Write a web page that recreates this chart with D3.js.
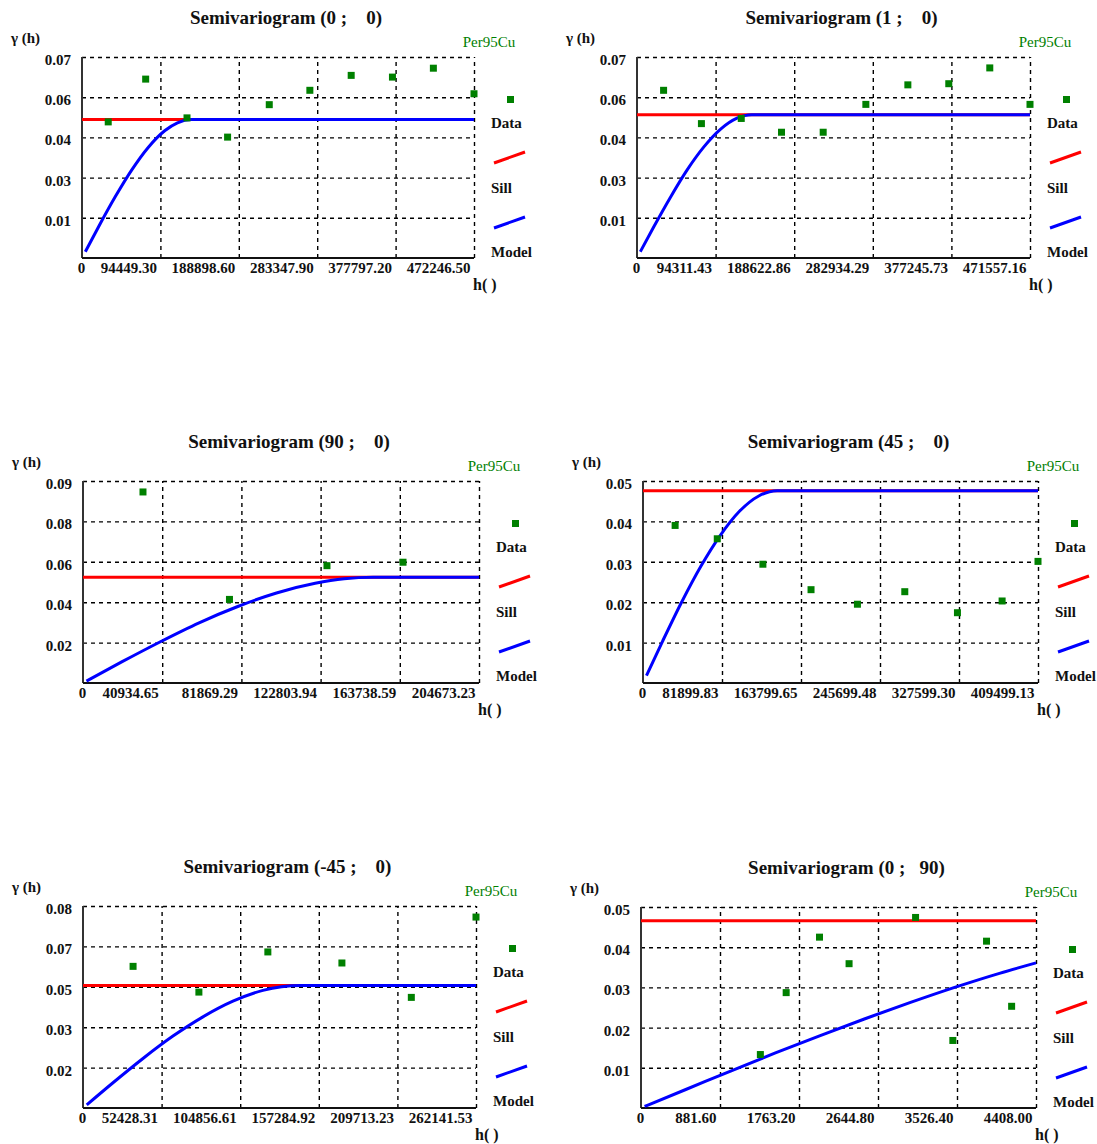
<!DOCTYPE html>
<html>
<head>
<meta charset="utf-8">
<script src="https://cdn.jsdelivr.net/npm/d3@7"></script>
<style>
  body { margin: 0; background: #fff; }
  svg text { font-family: "Liberation Serif", "Times New Roman", serif; font-weight: bold; fill: #111; }
  .title { white-space: pre; }
</style>
</head>
<body>
<svg id="chart" width="1097" height="1144"></svg>
<script>
// ---- data: one set of arrays per direction (azimuth ; dip) ----
const panelTitles = [
  "Semivariogram (0 ;    0)",
  "Semivariogram (1 ;    0)",
  "Semivariogram (90 ;    0)",
  "Semivariogram (45 ;    0)",
  "Semivariogram (-45 ;    0)",
  "Semivariogram (0 ;   90)"
];
const variableName = "Per95Cu";

// vertical extent of each plot and the labels printed at its five gridlines
const yMax = [0.07, 0.07, 0.094, 0.05, 0.084, 0.05];
const yTickLabels = [
  ["0.01", "0.03", "0.04", "0.06", "0.07"],
  ["0.01", "0.03", "0.04", "0.06", "0.07"],
  ["0.02", "0.04", "0.06", "0.08", "0.09"],
  ["0.01", "0.02", "0.03", "0.04", "0.05"],
  ["0.02", "0.03", "0.05", "0.07", "0.08"],
  ["0.01", "0.02", "0.03", "0.04", "0.05"]
];
const xTickLabels = [
  ["94449.30", "188898.60", "283347.90", "377797.20", "472246.50"],
  ["94311.43", "188622.86", "282934.29", "377245.73", "471557.16"],
  ["40934.65", "81869.29", "122803.94", "163738.59", "204673.23"],
  ["81899.83", "163799.65", "245699.48", "327599.30", "409499.13"],
  ["52428.31", "104856.61", "157284.92", "209713.23", "262141.53"],
  ["881.60", "1763.20", "2644.80", "3526.40", "4408.00"]
];

// experimental semivariogram (lag distance h, gamma)
const lag_0_0   = [31600, 76700, 126500, 175400, 225600, 274500, 324300, 374000, 423300, 472246.5];
const gamma_0_0 = [0.0474, 0.0623, 0.0488, 0.0421, 0.0534, 0.0584, 0.0636, 0.0630, 0.0661, 0.0572];
const lag_1_0   = [31900, 77300, 125100, 173400, 223400, 274600, 325000, 374100, 423300, 471557.16];
const gamma_1_0 = [0.0584, 0.0468, 0.0486, 0.0438, 0.0438, 0.0535, 0.0603, 0.0607, 0.0662, 0.0535];
const lag_90_0   = [31000, 75700, 126100, 165400];
const gamma_90_0 = [0.0889, 0.0389, 0.0546, 0.0562];
const lag_45_0   = [33300, 77000, 124300, 174200, 222300, 271400, 326000, 372300, 409499.13];
const gamma_45_0 = [0.0390, 0.0357, 0.0294, 0.0231, 0.0195, 0.0226, 0.0174, 0.0203, 0.0301];
const lag_m45_0   = [33400, 77300, 123300, 172700, 219000, 262141.53];
const gamma_m45_0 = [0.0589, 0.0482, 0.0649, 0.0603, 0.0460, 0.0794];
const lag_0_90   = [1332, 1620, 1992, 2322, 3064, 3480, 3856, 4136];
const gamma_0_90 = [0.0133, 0.0287, 0.0425, 0.0359, 0.0474, 0.0168, 0.0415, 0.0253];

// fitted model curve, sampled along h
const modelH_0_0 = [4000, 20000, 40000, 60000, 80000, 100000, 115000, 131500, 472246.5];
const modelG_0_0 = [0.0022, 0.0109, 0.0213, 0.0307, 0.0386, 0.0444, 0.0471, 0.0482, 0.0482];
const modelH_1_0 = [4000, 20000, 40000, 60000, 80000, 100000, 120000, 137700, 471557.16];
const modelG_1_0 = [0.0022, 0.0108, 0.0211, 0.0306, 0.0386, 0.0448, 0.0487, 0.0499, 0.0499];
const modelH_90_0 = [1800, 20000, 40000, 60000, 80000, 100000, 120000, 135000, 150000, 204673.23];
const modelG_90_0 = [0.0009, 0.0098, 0.0192, 0.0280, 0.0356, 0.0419, 0.0464, 0.0485, 0.0492, 0.0492];
const modelH_45_0 = [3600, 20000, 40000, 60000, 80000, 100000, 120000, 139150, 409499.13];
const modelG_45_0 = [0.00185, 0.0102, 0.0200, 0.0289, 0.0365, 0.0425, 0.0463, 0.0476, 0.0476];
const modelH_m45_0 = [2500, 20000, 40000, 60000, 80000, 100000, 120000, 145000, 262141.53];
const modelG_m45_0 = [0.0013, 0.0105, 0.0206, 0.0299, 0.0379, 0.0444, 0.0489, 0.0509, 0.0509];
const modelH_0_90 = [40, 500, 1000, 1500, 2000, 2500, 3000, 3500, 4000, 4408];
const modelG_0_90 = [0.0004, 0.0046, 0.0092, 0.0137, 0.0180, 0.0222, 0.0262, 0.0300, 0.0335, 0.0361];

// sill of each fitted model
const sills = [0.0482, 0.0499, 0.0492, 0.0476, 0.0509, 0.0466];

const legendLabels = ["Data", "Sill", "Model"];

// ---- layout of the six plotting frames (pixels) ----
const frames = [
  { left: 82,  right: 474,  top: 57,  bottom: 258 },
  { left: 637, right: 1030, top: 57,  bottom: 258 },
  { left: 83,  right: 479,  top: 481, bottom: 683 },
  { left: 643, right: 1038, top: 481, bottom: 683 },
  { left: 83,  right: 476,  top: 906, bottom: 1108 },
  { left: 641, right: 1036, top: 907, bottom: 1108 }
];

const panels = [
  { lag: lag_0_0,   gam: gamma_0_0,   mh: modelH_0_0,   mg: modelG_0_0 },
  { lag: lag_1_0,   gam: gamma_1_0,   mh: modelH_1_0,   mg: modelG_1_0 },
  { lag: lag_90_0,  gam: gamma_90_0,  mh: modelH_90_0,  mg: modelG_90_0 },
  { lag: lag_45_0,  gam: gamma_45_0,  mh: modelH_45_0,  mg: modelG_45_0 },
  { lag: lag_m45_0, gam: gamma_m45_0, mh: modelH_m45_0, mg: modelG_m45_0 },
  { lag: lag_0_90,  gam: gamma_0_90,  mh: modelH_0_90,  mg: modelG_0_90 }
];

const GREEN = "#008000", RED = "#ff0000", BLUE = "#0000ff";
const svg = d3.select("#chart");

panels.forEach((p, i) => {
  const f = frames[i];
  const W = f.right - f.left, H = f.bottom - f.top;
  const xTicks = xTickLabels[i].map(Number);
  const xMax = xTicks[xTicks.length - 1];
  const yTicks = d3.range(1, 6).map(k => yMax[i] * k / 5);

  const x = d3.scaleLinear().domain([0, xMax]).range([f.left, f.right]);
  const y = d3.scaleLinear().domain([0, yMax[i]]).range([f.bottom, f.top]);

  const g = svg.append("g");

  // title and axis captions
  g.append("text").attr("class", "title")
    .attr("x", (f.left + f.right) / 2 + 8).attr("y", f.top - 33)
    .attr("text-anchor", "middle").style("font-size", "19px")
    .text(panelTitles[i]);
  g.append("text").attr("x", f.left - 71).attr("y", f.top - 14)
    .style("font-size", "15px").text("\u03b3 (h)");
  g.append("text").attr("x", f.right + 15).attr("y", f.top - 10)
    .attr("text-anchor", "middle").style("font-size", "15px")
    .style("font-weight", "normal").style("fill", GREEN).text(variableName);
  g.append("text").attr("x", f.right - 1).attr("y", f.bottom + 32)
    .style("font-size", "16px").style("white-space", "pre").text("h( )");

  // dashed grid
  const gridY = g.append("g").attr("transform", `translate(${f.left},0)`)
    .call(d3.axisLeft(y).tickValues(yTicks).tickSize(-W).tickFormat(""));
  const gridX = g.append("g").attr("transform", `translate(0,${f.bottom})`)
    .call(d3.axisBottom(x).tickValues(xTicks).tickSize(-H).tickFormat(""));
  [gridY, gridX].forEach(a => {
    a.select(".domain").remove();
    a.selectAll("line").attr("stroke", "#000").attr("stroke-width", 1.4)
      .attr("stroke-dasharray", "4,4");
  });

  // solid axes
  g.append("line").attr("x1", f.left).attr("x2", f.left)
    .attr("y1", f.top).attr("y2", f.bottom)
    .attr("stroke", "#333").attr("stroke-width", 2);
  g.append("line").attr("x1", f.left).attr("x2", f.right)
    .attr("y1", f.bottom).attr("y2", f.bottom)
    .attr("stroke", "#111").attr("stroke-width", 2);

  // y tick labels
  const yAx = g.append("g").attr("transform", `translate(${f.left},0)`)
    .call(d3.axisLeft(y).tickValues(yTicks).tickSize(0).tickPadding(11)
      .tickFormat((d, k) => yTickLabels[i][k]));
  yAx.select(".domain").remove();
  yAx.attr("font-family", null).attr("font-size", null);
  yAx.selectAll("text").style("font-size", "15px").attr("dy", "0.5em");

  // x tick labels (right-aligned on their gridline, "0" centred on the axis)
  const xAx = g.append("g").attr("transform", `translate(0,${f.bottom})`)
    .call(d3.axisBottom(x).tickValues([0].concat(xTicks)).tickSize(0)
      .tickFormat((d, k) => k === 0 ? "0" : xTickLabels[i][k - 1]));
  xAx.select(".domain").remove();
  xAx.attr("font-family", null).attr("font-size", null);
  xAx.selectAll("text").style("font-size", "15px")
    .attr("y", 15).attr("dy", null)
    .attr("text-anchor", (d, k) => k === 0 ? "middle" : "end")
    .attr("dx", (d, k) => k === 0 ? -1 : -4);

  // sill
  g.append("line").attr("x1", x(0)).attr("x2", x(xMax))
    .attr("y1", y(sills[i])).attr("y2", y(sills[i]))
    .attr("stroke", RED).attr("stroke-width", 3);

  // model curve
  const modelPts = p.mh.map((h, k) => [h, p.mg[k]]);
  g.append("path").datum(modelPts)
    .attr("d", d3.line().x(d => x(d[0])).y(d => y(d[1])).curve(d3.curveMonotoneX))
    .attr("fill", "none").attr("stroke", BLUE).attr("stroke-width", 3);

  // experimental points
  g.selectAll("rect.pt").data(p.lag.map((h, k) => [h, p.gam[k]])).enter()
    .append("rect").attr("class", "pt")
    .attr("x", d => x(d[0]) - 3.5).attr("y", d => y(d[1]) - 3.5)
    .attr("width", 7).attr("height", 7).attr("fill", GREEN);

  // legend
  const L = f.right, T = f.top;
  g.append("rect").attr("x", L + 33).attr("y", T + 39)
    .attr("width", 7).attr("height", 7).attr("fill", GREEN);
  g.append("line").attr("x1", L + 20).attr("y1", T + 106).attr("x2", L + 51).attr("y2", T + 95)
    .attr("stroke", RED).attr("stroke-width", 3);
  g.append("line").attr("x1", L + 20).attr("y1", T + 171).attr("x2", L + 51).attr("y2", T + 160)
    .attr("stroke", BLUE).attr("stroke-width", 3);
  legendLabels.forEach((t, k) => {
    g.append("text").attr("x", L + 17).attr("y", T + 71 + k * 64.5)
      .style("font-size", "15px").text(t);
  });
});
</script>
</body>
</html>
